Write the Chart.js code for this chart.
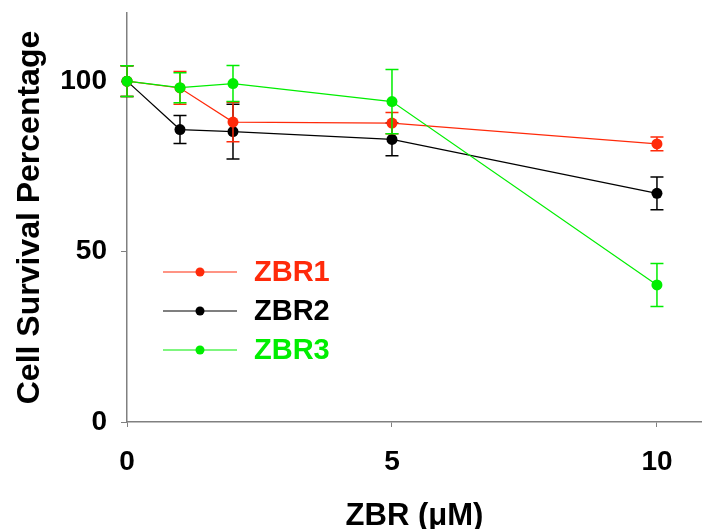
<!DOCTYPE html>
<html>
<head>
<meta charset="utf-8">
<script src="https://cdn.jsdelivr.net/npm/chart.js@4"></script>
<style>
  html, body { margin: 0; padding: 0; background: #fff; }
  #wrap { width: 702px; height: 529px; }
</style>
</head>
<body>
<div id="wrap"><canvas id="chart" width="702" height="529"></canvas></div>
<script>
// --- datos ---
const dosis = [0, 1, 2, 5, 10];
const zbr1 = [100, 98, 88, 87.7, 81.6];
const zbr1Err = [4.5, 4.8, 5.8, 3.1, 2];
const zbr2 = [100, 85.8, 85.2, 82.9, 67.1];
const zbr2Err = [4.5, 4.1, 8, 4.8, 4.8];
const zbr3 = [100, 98.1, 99.3, 94, 40.2];
const zbr3Err = [4.5, 4.4, 5.3, 9.4, 6.3];
const xTicks = [0, 5, 10];
const yTicks = [0, 50, 100];
const nombres = ["ZBR1", "ZBR2", "ZBR3"];
const colores = ["#ff2a0a", "#000000", "#00ee00"];

const FUENTE = "'Liberation Sans', Arial, sans-serif";
const puntos = (ys) => dosis.map((x, i) => ({ x, y: ys[i] }));

// barras de error, dibujadas antes de cada serie
const barrasError = {
  id: "barrasError",
  beforeDatasetDraw(chart, args) {
    const ds = chart.data.datasets[args.index];
    const meta = args.meta;
    const yScale = chart.scales.y;
    const ctx = chart.ctx;
    ctx.save();
    ctx.strokeStyle = ds.borderColor;
    ctx.lineWidth = 1.5;
    meta.data.forEach((pt, i) => {
      const v = ds.data[i].y;
      const e = ds.err[i];
      const yTop = yScale.getPixelForValue(v + e);
      const yBot = yScale.getPixelForValue(v - e);
      ctx.beginPath();
      ctx.moveTo(pt.x, yTop);
      ctx.lineTo(pt.x, yBot);
      ctx.moveTo(pt.x - 6.5, yTop);
      ctx.lineTo(pt.x + 6.5, yTop);
      ctx.moveTo(pt.x - 6.5, yBot);
      ctx.lineTo(pt.x + 6.5, yBot);
      ctx.stroke();
    });
    ctx.restore();
  },
};

// leyenda propia: línea con punto y texto coloreado
const leyenda = {
  id: "leyenda",
  afterDraw(chart) {
    const ctx = chart.ctx;
    const a = chart.chartArea;
    ctx.save();
    nombres.forEach((n, i) => {
      const y = a.top + 259 + i * 39;
      const x0 = a.left + 36;
      ctx.strokeStyle = colores[i];
      ctx.lineWidth = 1.2;
      ctx.beginPath();
      ctx.moveTo(x0, y);
      ctx.lineTo(x0 + 74, y);
      ctx.stroke();
      ctx.fillStyle = colores[i];
      ctx.beginPath();
      ctx.arc(x0 + 37, y, 4.5, 0, Math.PI * 2);
      ctx.fill();
      ctx.font = "bold 29px " + FUENTE;
      ctx.textBaseline = "middle";
      ctx.fillText(n, x0 + 91, y + 1);
    });
    ctx.restore();
  },
};

new Chart(document.getElementById("chart"), {
  type: "line",
  data: {
    datasets: [
      { label: nombres[2], data: puntos(zbr3), err: zbr3Err, borderColor: colores[2], backgroundColor: colores[2], order: 0 },
      { label: nombres[0], data: puntos(zbr1), err: zbr1Err, borderColor: colores[0], backgroundColor: colores[0], order: 1 },
      { label: nombres[1], data: puntos(zbr2), err: zbr2Err, borderColor: colores[1], backgroundColor: colores[1], order: 2 },
    ].map((d) => ({ ...d, borderWidth: 1.2, pointRadius: 5.5, pointBorderWidth: 0, tension: 0, clip: false })),
  },
  options: {
    responsive: false,
    animation: false,
    layout: { autoPadding: false, padding: { top: 13, right: 0, left: 0, bottom: 0 } },
    plugins: { legend: { display: false }, tooltip: { enabled: false } },
    scales: {
      x: {
        type: "linear",
        min: 0,
        max: 10.85,
        afterBuildTicks: (s) => { s.ticks = xTicks.map((v) => ({ value: v })); },
        afterFit: (s) => { s.height = 107; s.paddingLeft = 0; s.paddingRight = 0; },
        grid: { drawOnChartArea: false, tickLength: 5, color: "#808080" },
        border: { color: "#808080", width: 1.5 },
        ticks: { color: "#000", padding: 18, maxRotation: 0, font: { family: FUENTE, size: 28, weight: "bold" } },
        title: { display: true, text: "ZBR (\u03bcM)", color: "#000", padding: { top: 18, bottom: -6 }, font: { family: FUENTE, size: 31, weight: "bold" } },
      },
      y: {
        min: 0,
        max: 120,
        afterBuildTicks: (s) => { s.ticks = yTicks.map((v) => ({ value: v })); },
        afterFit: (s) => { s.width = 127; s.paddingTop = 0; s.paddingBottom = 0; },
        grid: { drawOnChartArea: false, tickLength: 6, color: "#808080" },
        border: { color: "#808080", width: 1.5 },
        ticks: { color: "#000", padding: 14, font: { family: FUENTE, size: 28, weight: "bold" } },
        title: { display: true, text: "Cell Survival Percentage", color: "#000", padding: { top: 11, bottom: 4 }, font: { family: FUENTE, size: 32, weight: "bold" } },
      },
    },
  },
  plugins: [barrasError, leyenda],
});
</script>
</body>
</html>
